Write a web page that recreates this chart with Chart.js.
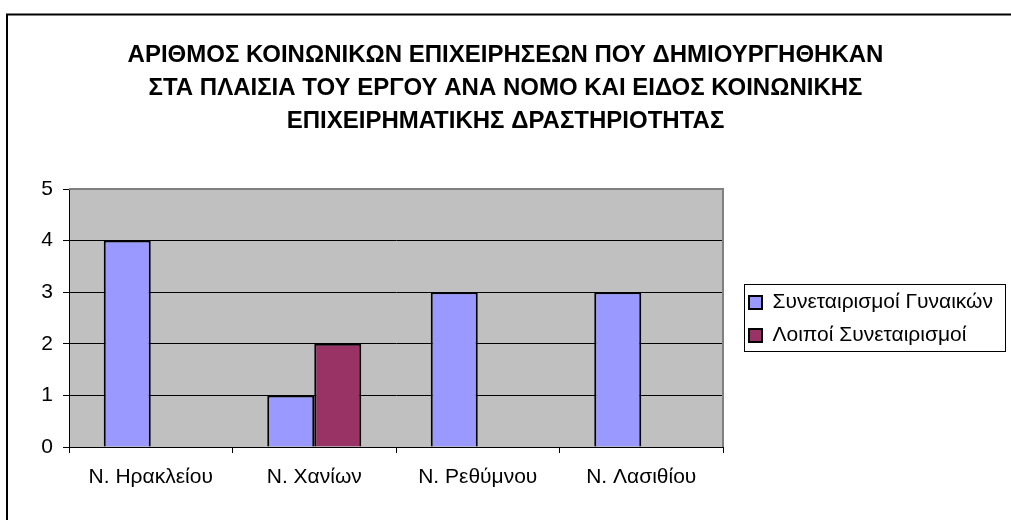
<!DOCTYPE html>
<html>
<head>
<meta charset="utf-8">
<script src="https://cdn.jsdelivr.net/npm/chart.js@4/dist/chart.umd.min.js"></script>
<style>
  html, body { margin: 0; padding: 0; background: #fff; }
  #wrap { width: 1011px; height: 520px; }
</style>
</head>
<body>
<div id="wrap"><canvas id="chBars" width="1011" height="520"></canvas></div>
<script>
var categories = ['Ν. Ηρακλείου', 'Ν. Χανίων', 'Ν. Ρεθύμνου', 'Ν. Λασιθίου'];
var seriesNames = ['Συνεταιρισμοί Γυναικών', 'Λοιποί Συνεταιρισμοί'];
var womenCoops = [4, 1, 3, 3];
var otherCoops = [0, 2, 0, 0];
var yMin = 0, yMax = 5, yStep = 1;
var titleLines = [
  'ΑΡΙΘΜΟΣ ΚΟΙΝΩΝΙΚΩΝ ΕΠΙΧΕΙΡΗΣΕΩΝ ΠΟΥ ΔΗΜΙΟΥΡΓΗΘΗΚΑΝ',
  'ΣΤΑ ΠΛΑΙΣΙΑ ΤΟΥ ΕΡΓΟΥ ΑΝΑ ΝΟΜΟ ΚΑΙ ΕΙΔΟΣ ΚΟΙΝΩΝΙΚΗΣ',
  'ΕΠΙΧΕΙΡΗΜΑΤΙΚΗΣ ΔΡΑΣΤΗΡΙΟΤΗΤΑΣ'
];

var colors = ['#9999FF', '#993366'];
var fontFamily = "Arial, 'Liberation Sans', sans-serif";

Chart.defaults.color = '#000';
Chart.defaults.font.family = fontFamily;

// grey plot area, frame of the whole picture, legend box
var excelLook = {
  id: 'excelLook',
  beforeInit: function (chart) {
    var fit = chart.legend.fit;
    chart.legend.fit = function () {
      fit.call(this);
      this.width = 288;
    };
  },
  afterLayout: function (chart) {
    var lg = chart.legend;
    // items get centred between top and bottom
    lg.left = 737; lg.right = 1006;
    lg.top = 270; lg.bottom = 368;
  },
  beforeDraw: function (chart) {
    var ctx = chart.ctx, a = chart.chartArea;
    ctx.save();
    ctx.fillStyle = '#C0C0C0';
    ctx.fillRect(a.left, a.top, a.right - a.left, a.bottom - a.top);
    ctx.restore();
  },
  afterDraw: function (chart) {
    var ctx = chart.ctx, a = chart.chartArea;
    ctx.save();
    // plot border top and right
    ctx.strokeStyle = '#808080';
    ctx.lineWidth = 2;
    ctx.beginPath();
    ctx.moveTo(a.left, a.top);
    ctx.lineTo(a.right, a.top);
    ctx.lineTo(a.right, a.bottom);
    ctx.stroke();
    // legend frame
    ctx.strokeStyle = '#000';
    ctx.lineWidth = 1;
    ctx.strokeRect(744.5, 284.5, 261, 67);
    // outer frame
    ctx.lineWidth = 2;
    ctx.beginPath();
    ctx.moveTo(7, 530);
    ctx.lineTo(7, 14.5);
    ctx.lineTo(1020, 14.5);
    ctx.stroke();
    ctx.restore();
  }
};

var chBars = document.getElementById('chBars');
if (chBars) {
  new Chart(chBars, {
    type: 'bar',
    data: {
      labels: categories,
      datasets: [
        {
          label: seriesNames[0],
          data: womenCoops,
          backgroundColor: colors[0],
          borderColor: '#000',
          borderWidth: 2,
          borderSkipped: 'bottom'
        },
        {
          label: seriesNames[1],
          data: otherCoops,
          backgroundColor: colors[1],
          borderColor: '#000',
          borderWidth: 2,
          borderSkipped: 'bottom'
        }
      ]
    },
    options: {
      responsive: false,
      animation: false,
      devicePixelRatio: 1,
      layout: { padding: { left: 0, right: 0, top: 0, bottom: 0 } },
      categoryPercentage: 0.575,
      barPercentage: 1,
      plugins: {
        title: {
          display: true,
          text: titleLines,
          font: { size: 24, weight: 'bold', lineHeight: '33px' },
          padding: { top: 39, bottom: 51 }
        },
        legend: {
          position: 'right',
          labels: {
            boxWidth: 13,
            boxHeight: 13,
            padding: 12,
            font: { size: 21 }
          }
        },
        tooltip: { enabled: false }
      },
      scales: {
        x: {
          grid: { drawOnChartArea: false, drawTicks: true, tickLength: 6, color: '#000', offset: true },
          border: { color: '#000', width: 1 },
          ticks: { padding: 12, font: { size: 21 } },
          afterFit: function (scale) { scale.height = 73; }
        },
        y: {
          min: yMin,
          max: yMax,
          ticks: { stepSize: yStep, padding: 10, font: { size: 21 } },
          grid: { color: '#000', tickLength: 6 },
          border: { color: '#000', width: 1 },
          afterFit: function (scale) { scale.width = 69; }
        }
      }
    },
    plugins: [excelLook]
  });
}
</script>
</body>
</html>
